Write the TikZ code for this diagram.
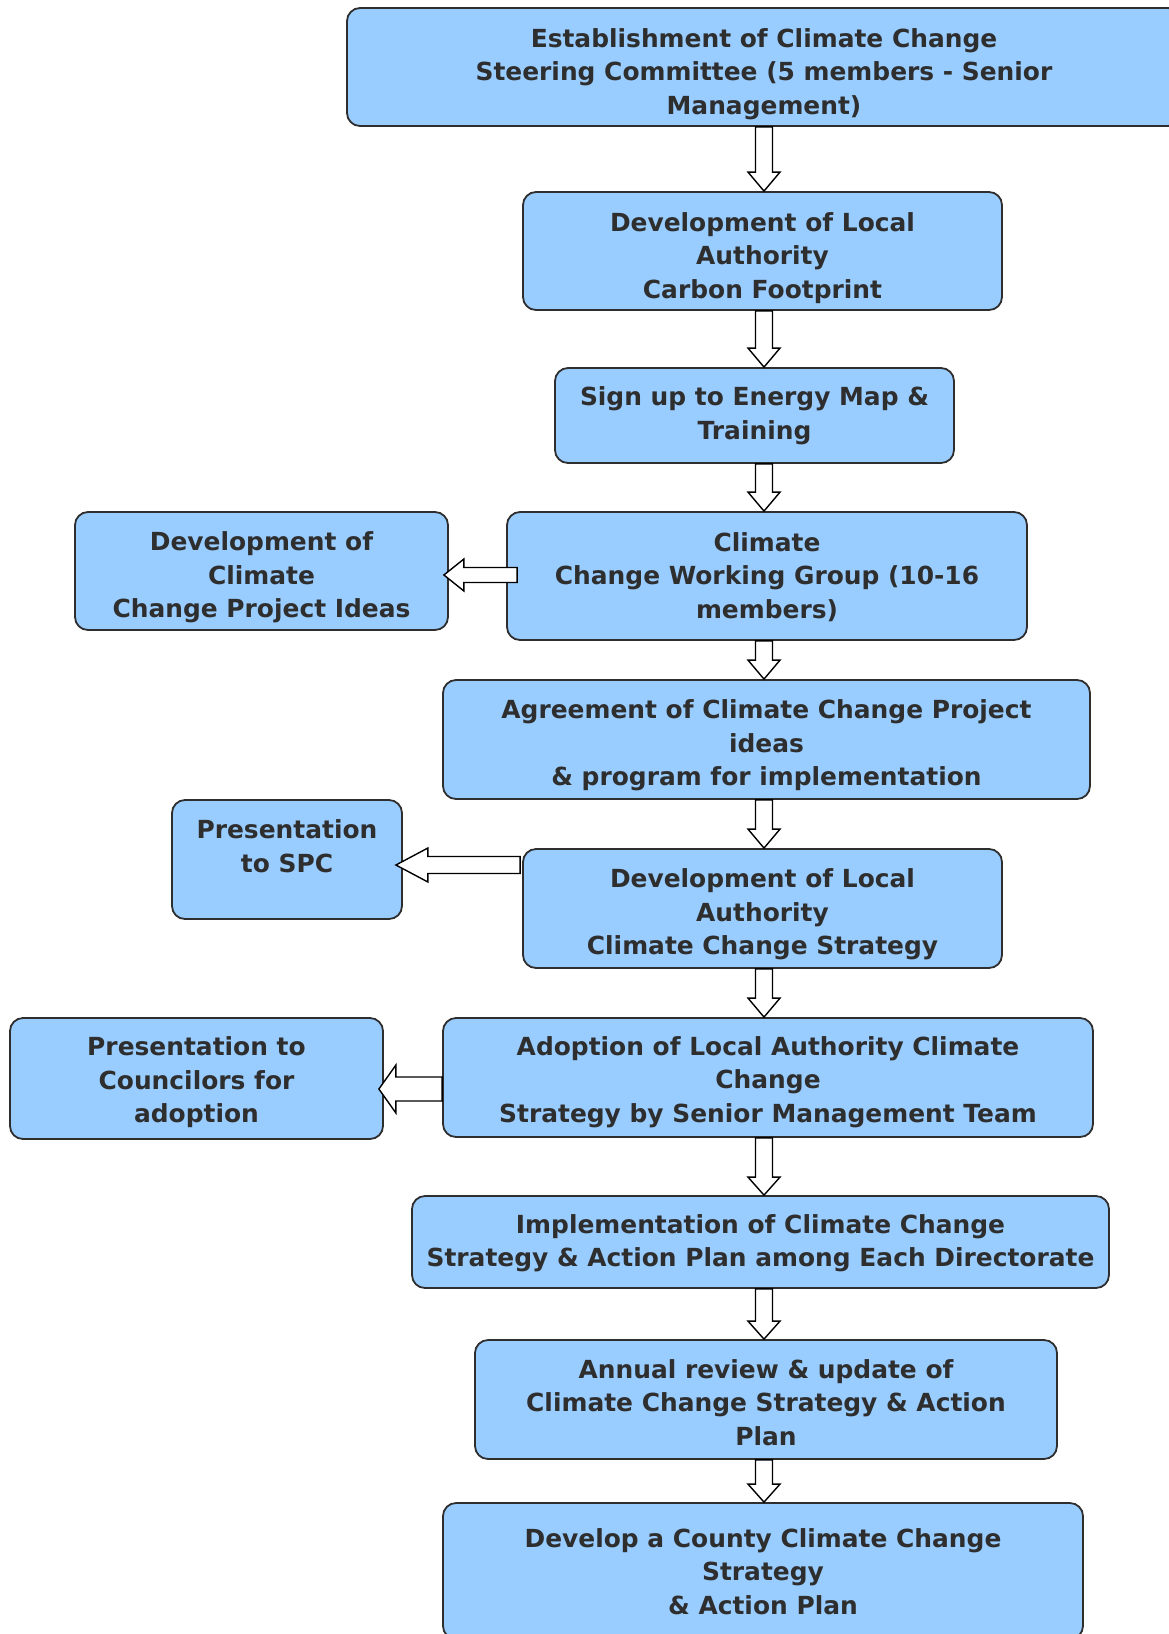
\documentclass[tikz,border=0pt]{standalone}
\usepackage{fontspec}
\setmainfont{DejaVu Sans}
\usetikzlibrary{calc}

\definecolor{boxblue}{HTML}{99CCFF}
\definecolor{inkgrey}{HTML}{2E2E2E}

% hollow block arrows: #1 from, #2 to, #3 shaft half width, #4 head half width, #5 head length
\newcommand{\varrow}[5]{%
  \draw[blockarrow] let \p1=#1, \p2=#2 in
    (\x1-#3,\y1) -- (\x1-#3,\y2+#5) -- (\x1-#4,\y2+#5) -- (\x1,\y2)
    -- (\x1+#4,\y2+#5) -- (\x1+#3,\y2+#5) -- (\x1+#3,\y1) -- cycle;}
\newcommand{\harrow}[5]{%
  \draw[blockarrow] let \p1=#1, \p2=#2 in
    (\x1,\y1+#3) -- (\x2+#5,\y1+#3) -- (\x2+#5,\y1+#4) -- (\x2,\y1)
    -- (\x2+#5,\y1-#4) -- (\x2+#5,\y1-#3) -- (\x1,\y1-#3) -- cycle;}

\begin{document}
\begin{tikzpicture}[x=1pt, y=-1pt,
    stage/.style={draw=inkgrey, line width=1.8pt, fill=boxblue, rounded corners=13pt,
      align=center, text=inkgrey, inner sep=0pt, text depth=0pt,
      font=\fontsize{24.9}{33.5}\selectfont\bfseries},
    blockarrow/.style={draw=black, fill=white, line width=1.4pt, line join=miter}]
\useasboundingbox (0,0) rectangle (1169,1634);
\clip (0,0) rectangle (1169,1634);
\coordinate (spine) at (764,0);

% main column
\node[stage, text height=94.4pt, minimum width=834pt, minimum height=118pt] (steer) at (764,67)
  {Establishment of Climate Change\\Steering Committee (5 members - Senior\\Management)};
\node[stage, text height=94.4pt, minimum width=479pt, minimum height=118pt] (footprint) at (762.5,251)
  {Development of Local\\Authority\\Carbon Footprint};
\node[stage, text height=47.3pt, minimum width=399pt, minimum height=95pt] (energymap) at (754.5,415.5)
  {Sign up to Energy Map \&\\Training};
\node[stage, text height=84pt, minimum width=520pt, minimum height=128pt] (workgroup) at (767,576)
  {Climate\\Change Working Group (10-16\\members)};
\node[stage, text height=92.2pt, minimum width=647pt, minimum height=119pt] (agreement) at (766.5,739.5)
  {Agreement of Climate Change Project\\ideas\\\& program for implementation};
\node[stage, text height=92.2pt, minimum width=479pt, minimum height=119pt] (strategy) at (762.5,908.5)
  {Development of Local\\Authority\\Climate Change Strategy};
\node[stage, text height=89.2pt, minimum width=650pt, minimum height=119pt] (adoption) at (768,1077.5)
  {Adoption of Local Authority Climate\\Change\\Strategy by Senior Management Team};
\node[stage, text height=49.3pt, minimum width=697pt, minimum height=92pt] (implement) at (760.5,1242)
  {Implementation of Climate Change\\Strategy \& Action Plan among Each Directorate};
\node[stage, text height=91.2pt, minimum width=582pt, minimum height=119pt] (review) at (766,1399.5)
  {Annual review \& update of\\Climate Change Strategy \& Action\\Plan};
\node[stage, text height=86pt, minimum width=640pt, minimum height=136pt] (county) at (763,1571)
  {Develop a County Climate Change\\Strategy\\\& Action Plan};

% side boxes
\node[stage, text height=93.2pt, minimum width=373pt, minimum height=118pt] (ideas) at (261.5,571)
  {Development of\\Climate\\Change Project Ideas};
\node[stage, text height=92.2pt, minimum width=230pt, minimum height=119pt] (spc) at (287,859.5)
  {Presentation\\to SPC\\\mbox{}};
\node[stage, text height=88pt, minimum width=373pt, minimum height=121pt] (councils) at (196.5,1078.5)
  {Presentation to\\Councilors for\\adoption};

% downward arrows
\varrow{(steer.south -| spine)}{(footprint.north -| spine)}{8.5}{16}{19}
\varrow{(footprint.south -| spine)}{(energymap.north -| spine)}{8.5}{16}{19}
\varrow{(energymap.south -| spine)}{(workgroup.north -| spine)}{8.5}{16}{19}
\varrow{(workgroup.south -| spine)}{(agreement.north -| spine)}{8.5}{16}{19}
\varrow{(agreement.south -| spine)}{(strategy.north -| spine)}{8.5}{16}{19}
\varrow{(strategy.south -| spine)}{(adoption.north -| spine)}{8.5}{16}{19}
\varrow{(adoption.south -| spine)}{(implement.north -| spine)}{8.5}{16}{18}
\varrow{(implement.south -| spine)}{(review.north -| spine)}{8.5}{16}{18}
\varrow{(review.south -| spine)}{(county.north -| spine)}{8.5}{16}{18}

% side arrows
\harrow{($(workgroup.west)+(11,-1)$)}{($(ideas.east)+(-5,4)$)}{7.5}{16}{20}
\harrow{($(strategy.west)+(-2,-43.5)$)}{($(spc.east)+(-7,5.5)$)}{8.5}{17}{32}
\harrow{($(adoption.west)+(0,11.5)$)}{($(councils.east)+(-5,10.5)$)}{12}{24}{17}
\end{tikzpicture}
\end{document}
